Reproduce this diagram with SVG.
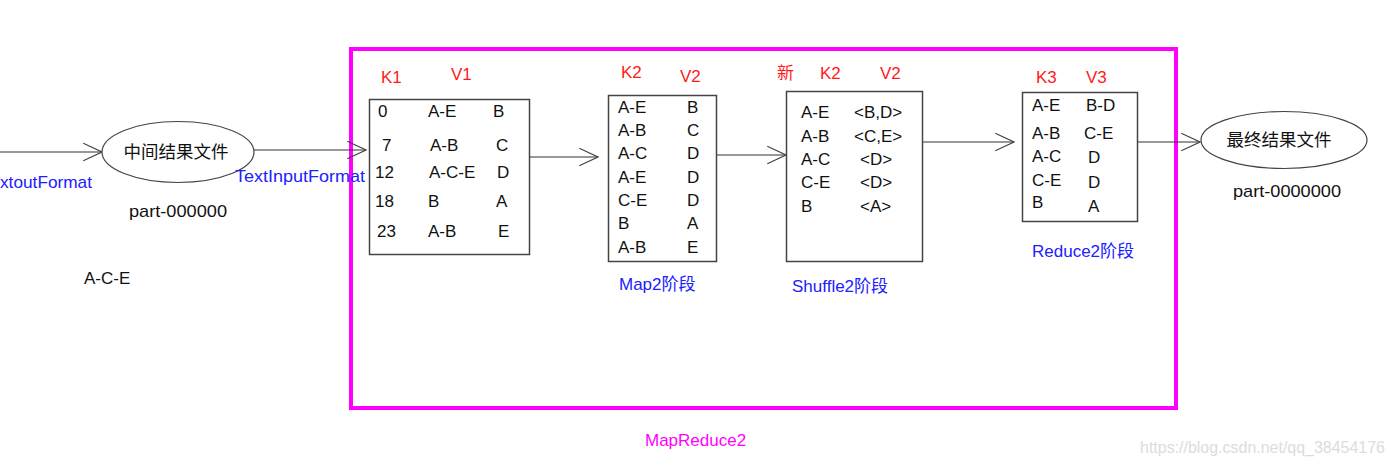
<svg xmlns="http://www.w3.org/2000/svg" width="1391" height="466" viewBox="0 0 1391 466">
<defs>
<marker id="arr" markerUnits="userSpaceOnUse" markerWidth="20" markerHeight="20" viewBox="0 0 16 16" refX="15" refY="8" orient="auto">
<path d="M0,1 L15,8 L0,15" fill="none" stroke="#444" stroke-width="1"/>
</marker>
<style>
text{font-family:"Liberation Sans","Noto Sans CJK SC",sans-serif;font-size:17px;fill:#111}
.red{fill:#ff1a1a}
.blue{fill:#2020ff}
.mag{fill:#ff00ff}
.box{fill:#fff;stroke:#444;stroke-width:1.5}
.ell{fill:#fff;stroke:#444;stroke-width:1.2}
.con{stroke:#333;stroke-width:1.2;fill:none;marker-end:url(#arr)}
</style>
</defs>
<rect width="1391" height="466" fill="#fff"/>
<rect id="frame" x="351" y="49" width="825" height="359" fill="none" stroke="#ff00ff" stroke-width="4"/>
<g id="connectors">
<line class="con" x1="0" y1="152" x2="102" y2="152"/>
<line class="con" x1="254" y1="150" x2="366" y2="150"/>
<line class="con" x1="530" y1="157" x2="598" y2="157"/>
<line class="con" x1="717" y1="155" x2="786" y2="155"/>
<line class="con" x1="923" y1="142" x2="1014" y2="142"/>
<line class="con" x1="1138" y1="142" x2="1200" y2="142"/>
</g>
<g id="n_mid">
<ellipse class="ell" cx="178" cy="152" rx="76" ry="30.5"/>
<text x="176" y="158" text-anchor="middle" style="font-size:17.5px">中间结果文件</text>
<text x="129" y="217" textLength="98" lengthAdjust="spacingAndGlyphs">part-000000</text>
</g>
<text class="blue" x="0" y="188" textLength="92" lengthAdjust="spacingAndGlyphs">xtoutFormat</text>
<text x="84" y="284">A-C-E</text>
<g id="n_k1">
<text class="red" x="381" y="83">K1</text>
<text class="red" x="451" y="80">V1</text>
<rect class="box" x="369.500" y="99.500" width="160" height="155"/>
<text x="378" y="117">0</text><text x="428" y="117">A-E</text><text x="493" y="117">B</text>
<text x="382" y="151">7</text><text x="430" y="151">A-B</text><text x="496" y="151">C</text>
<text x="375" y="178">12</text><text x="429" y="178">A-C-E</text><text x="497" y="178">D</text>
<text x="375" y="207">18</text><text x="428" y="207">B</text><text x="496" y="207">A</text>
<text x="377" y="237">23</text><text x="428" y="237">A-B</text><text x="498" y="237">E</text>
</g>
<text class="blue" x="235" y="182" textLength="130" lengthAdjust="spacingAndGlyphs">TextInputFormat</text>
<g id="n_map">
<text class="red" x="621" y="78">K2</text>
<text class="red" x="680" y="82">V2</text>
<rect class="box" x="608.500" y="95.500" width="108" height="166"/>
<text x="618" y="113">A-E</text><text x="687" y="113">B</text>
<text x="618" y="136">A-B</text><text x="687" y="136">C</text>
<text x="618" y="159">A-C</text><text x="687" y="159">D</text>
<text x="618" y="183">A-E</text><text x="687" y="183">D</text>
<text x="618" y="206">C-E</text><text x="687" y="206">D</text>
<text x="618" y="229">B</text><text x="687" y="229">A</text>
<text x="618" y="253">A-B</text><text x="687" y="253">E</text>
<text class="blue" x="619" y="290">Map2阶段</text>
</g>
<g id="n_shuffle">
<text class="red" x="777" y="79">新</text>
<text class="red" x="820" y="79">K2</text>
<text class="red" x="880" y="79">V2</text>
<rect class="box" x="786.500" y="91.500" width="136" height="170"/>
<text x="801" y="118">A-E</text><text x="854" y="118">&lt;B,D&gt;</text>
<text x="801" y="142">A-B</text><text x="854" y="142">&lt;C,E&gt;</text>
<text x="801" y="165">A-C</text><text x="860" y="165">&lt;D&gt;</text>
<text x="801" y="188">C-E</text><text x="860" y="188">&lt;D&gt;</text>
<text x="801" y="212">B</text><text x="860" y="212">&lt;A&gt;</text>
<text class="blue" x="792" y="292">Shuffle2阶段</text>
</g>
<g id="n_reduce">
<text class="red" x="1036" y="83">K3</text>
<text class="red" x="1086" y="83">V3</text>
<rect class="box" x="1022.500" y="92.500" width="115" height="129"/>
<text x="1032" y="111">A-E</text><text x="1086" y="111">B-D</text>
<text x="1032" y="139">A-B</text><text x="1084" y="139">C-E</text>
<text x="1032" y="162">A-C</text><text x="1088" y="163">D</text>
<text x="1032" y="186">C-E</text><text x="1088" y="188">D</text>
<text x="1032" y="208">B</text><text x="1088" y="212">A</text>
<text class="blue" x="1032" y="257">Reduce2阶段</text>
</g>
<g id="n_final">
<ellipse class="ell" cx="1284" cy="140" rx="83" ry="28.5"/>
<text x="1279" y="146" text-anchor="middle" style="font-size:17.5px">最终结果文件</text>
<text x="1233" y="197" textLength="108" lengthAdjust="spacingAndGlyphs">part-0000000</text>
</g>
<text class="mag" x="645" y="446">MapReduce2</text>
<text x="1140" y="453" style="fill:#dcdcdc;font-size:16px" textLength="245" lengthAdjust="spacingAndGlyphs">https://blog.csdn.net/qq_38454176</text>
</svg>
